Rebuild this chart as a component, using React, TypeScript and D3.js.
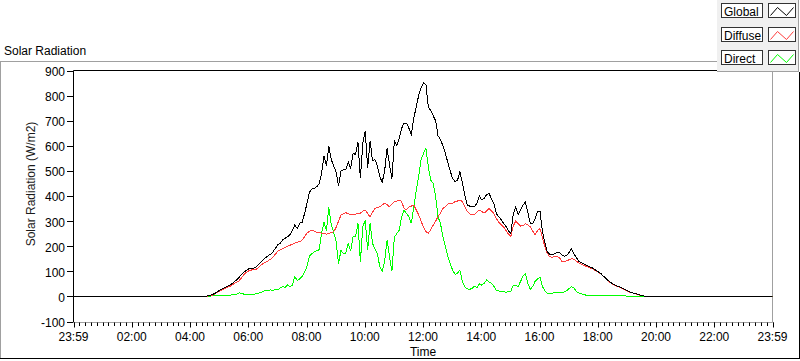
import React from "react";
import * as d3 from "d3";

// samples every 5 min, first sample at 04:30 (minutes counted from 23:59)
const startMinute = 271;
const stepMinutes = 5;

const globalRad = [
  0, 2, 4, 7, 12, 18, 24, 30, 34, 39,
  44, 50, 58, 66, 76, 86, 96, 104, 110, 113,
  112, 116, 126, 136, 146, 155, 162, 168, 178, 192,
  206, 212, 226, 232, 238, 246, 262, 285, 270, 292,
  295, 330, 370, 415, 428, 430, 437, 448, 490, 560,
  520, 600, 545, 520, 495, 440, 500, 505, 505, 535,
  510, 570, 565, 615, 470, 610, 660, 510, 620, 540,
  545, 520, 476, 455, 500, 590, 525, 470, 620, 600,
  630, 670, 690, 690, 670, 645, 710, 755, 800, 830,
  850, 845, 755, 740, 720, 700, 640, 625, 600, 570,
  535, 500, 470, 458, 462, 496, 455, 405, 364, 360,
  356, 358, 370, 400, 385, 390, 405, 410, 390, 370,
  330, 318, 305, 292, 278, 262, 250, 330, 355, 325,
  345, 365, 375, 335, 290, 290, 310, 340, 340, 260,
  215, 178, 168, 165, 170, 176, 175, 165, 160, 162,
  175, 190, 170, 155, 140, 135, 130, 125, 120, 115,
  112, 104, 98, 92, 82, 74, 64, 57, 50, 45,
  40, 37, 32, 27, 22, 18, 15, 12, 9, 6,
  4, 1, 0,
];

const diffuseRad = [
  0, 1, 3, 5, 10, 16, 21, 27, 30, 35,
  39, 44, 51, 57, 62, 74, 87, 96, 102, 105,
  106, 108, 115, 124, 132, 136, 142, 148, 158, 168,
  180, 186, 190, 196, 200, 204, 208, 212, 216, 218,
  224, 238, 252, 260, 264, 260, 256, 255, 251, 250,
  248, 251, 254, 257, 275, 300, 324, 330, 333, 330,
  326, 324, 328, 330, 331, 340, 344, 330, 317, 335,
  351, 354, 357, 364, 371, 365, 357, 368, 377, 380,
  384, 378, 350, 345, 357, 360, 364, 345, 325, 300,
  275, 258, 251, 266, 284, 300, 317, 332, 350, 358,
  368, 370, 372, 377, 380, 384, 378, 358, 340, 330,
  324, 326, 335, 344, 338, 332, 340, 350, 340, 330,
  310, 296, 285, 277, 262, 248, 240, 280, 300, 290,
  280, 282, 290, 285, 277, 260, 245, 262, 270, 235,
  198, 172, 158, 156, 158, 158, 155, 140, 138, 142,
  146, 150, 148, 140, 133, 128, 124, 120, 116, 112,
  108, 102, 96, 90, 80, 72, 62, 55, 49, 44,
  39, 36, 31, 26, 21, 17, 14, 11, 8, 5,
  3, 1, 0,
];

const directRad = [
  0, 1, 1, 2, 2, 2, 3, 3, 4, 4,
  5, 6, 7, 9, 14, 12, 9, 8, 8, 8,
  9, 10, 12, 16, 20, 24, 22, 26, 24, 28,
  26, 34, 40, 36, 46, 38, 45, 80, 62, 70,
  80, 96, 120, 160, 170, 178, 182, 186, 250, 297,
  262, 355, 284, 255, 220, 131, 184, 170, 172, 211,
  180, 237, 237, 291, 138, 277, 304, 184, 291, 211,
  190, 171, 118, 100, 140, 225, 158, 100, 237, 250,
  264, 317, 344, 330, 317, 291, 357, 420, 477, 543,
  570, 590, 516, 463, 450, 397, 317, 290, 237, 200,
  160, 131, 105, 88, 92, 105, 60, 38, 30, 28,
  32, 40, 35, 50, 45, 52, 65, 58, 52, 40,
  25, 22, 18, 18, 17, 18, 20, 45, 45, 38,
  60, 80, 90, 52, 28, 40, 60, 70, 76, 40,
  22, 12, 12, 13, 14, 14, 15, 16, 18, 22,
  32, 38, 34, 18, 14, 10, 7, 5, 5, 5,
  5, 4, 4, 3, 3, 3, 2, 2, 2, 2,
  2, 2, 2, 2, 1, 1, 1, 1, 1, 1,
  1, 0, 0,
];

const seriesNames = ["Global", "Diffuse", "Direct"];
const seriesColors = ["#000000", "#ff3c3c", "#00ff00"];
const seriesValues = [globalRad, diffuseRad, directRad];

const yTicks = [-100, 0, 100, 200, 300, 400, 500, 600, 700, 800, 900];
const xLabels = ["23:59", "02:00", "04:00", "06:00", "08:00", "10:00", "12:00",
  "14:00", "16:00", "18:00", "20:00", "22:00", "23:59"];

const W = 800;
const H = 361;
const plot = { left: 73.5, right: 772.5, top: 70.5, bottom: 321.5 };
const font = "'Liberation Sans', Arial, sans-serif";

export default function App() {
  const x = d3.scaleLinear().domain([0, 1440]).range([plot.left, plot.right]);
  const y = d3.scaleLinear().domain([-100, 900]).range([plot.bottom, plot.top]);

  const line = d3.line<[number, number]>()
    .x(d => x(d[0]))
    .y(d => y(d[1]));

  const toPoints = (vals: number[]): [number, number][] => [
    [0, 0],
    ...vals.map((v, i) => [startMinute + i * stepMinutes, v] as [number, number]),
    [1440, 0],
  ];

  const minorTicks = d3.range(0, 1441, 12);
  const majorTicks = d3.range(0, 1441, 120);

  // draw Direct first, Global last (on top)
  const order = [2, 1, 0];

  const legendTops = [3.5, 27.5, 50.5];
  const zig = d3.line<[number, number]>();

  return (
    <svg width={W} height={H} style={{ position: "absolute", left: 0, top: 0, background: "#fff" }}
      fontFamily={font}>
      <defs>
        <clipPath id="plotClip">
          <rect x={plot.left} y={plot.top - 1} width={plot.right - plot.left} height={plot.bottom - plot.top + 2} />
        </clipPath>
      </defs>

      {/* outer frame */}
      <line x1={0} x2={717} y1={61.5} y2={61.5} stroke="#a0a0a0" />
      <line x1={0.5} x2={0.5} y1={61} y2={359} stroke="#a0a0a0" />
      <line x1={0} x2={800} y1={358.5} y2={358.5} stroke="#000" />
      <line x1={799.5} x2={799.5} y1={72} y2={359} stroke="#000" />

      <text x={4} y={55} fontSize={12} fill="#000">Solar Radiation</text>

      {/* plot frame */}
      <line x1={plot.left} x2={plot.right} y1={plot.top} y2={plot.top} stroke="#000" />
      <line x1={plot.left} x2={plot.left} y1={plot.top} y2={plot.bottom + 1} stroke="#000" />
      <line x1={plot.right} x2={plot.right} y1={plot.top} y2={plot.bottom + 1} stroke="#a0a0a0" />
      <line x1={plot.left} x2={plot.right} y1={plot.bottom + 1} y2={plot.bottom + 1} stroke="#a0a0a0" />

      {/* y axis */}
      {yTicks.map(t => (
        <g key={t}>
          <line x1={67} x2={73} y1={Math.round(y(t)) + 0.5} y2={Math.round(y(t)) + 0.5} stroke="#000" />
          <text x={65} y={y(t)} dy="0.45em" textAnchor="end" fontSize={12} fill="#000">{t}</text>
        </g>
      ))}
      <text transform={`translate(35,184) rotate(-90)`} textAnchor="middle" fontSize={12} fill="#1a1a1a">
        Solar Radiation (W/m2)
      </text>

      {/* x axis */}
      {minorTicks.map(t => (
        <line key={"m" + t} x1={Math.round(x(t)) + 0.5} x2={Math.round(x(t)) + 0.5}
          y1={plot.bottom + 1} y2={plot.bottom + 4.5} stroke="#000" />
      ))}
      {majorTicks.map((t, i) => (
        <g key={"M" + t}>
          <line x1={Math.round(x(t)) + 0.5} x2={Math.round(x(t)) + 0.5}
            y1={plot.bottom + 1} y2={plot.bottom + 6} stroke="#000" />
          <text x={x(t)} y={341} textAnchor="middle" fontSize={12} fill="#000">{xLabels[i]}</text>
        </g>
      ))}
      <text x={(plot.left + plot.right) / 2} y={356} textAnchor="middle" fontSize={12} fill="#000">Time</text>

      {/* series */}
      <g clipPath="url(#plotClip)">
        {order.map(k => (
          <path key={seriesNames[k]} d={line(toPoints(seriesValues[k])) || ""}
            fill="none" stroke={seriesColors[k]} strokeWidth={1} shapeRendering="crispEdges" />
        ))}
      </g>

      {/* legend */}
      <rect x={717} y={0} width={82} height={72} fill="#f0f0f0" />
      <line x1={798.5} x2={798.5} y1={0} y2={72} stroke="#a0a0a0" />
      <line x1={717} x2={799} y1={71.5} y2={71.5} stroke="#a0a0a0" />
      {seriesNames.map((name, k) => {
        const top = legendTops[k];
        const sx = 768.5;
        const pts: [number, number][] = [
          [sx + 2, top + 12], [sx + 9, top + 4], [sx + 18, top + 12], [sx + 25, top + 4],
        ];
        return (
          <g key={name}>
            <rect x={721.5} y={top} width={41} height={14} fill="#fff" stroke="#333" />
            <text x={724} y={top + 12} fontSize={12} fill="#000">{name}</text>
            <rect x={sx} y={top} width={27} height={14} fill="#fff" stroke="#333" />
            <path d={zig(pts) || ""} fill="none" stroke={seriesColors[k]} strokeWidth={1} />
          </g>
        );
      })}
    </svg>
  );
}
